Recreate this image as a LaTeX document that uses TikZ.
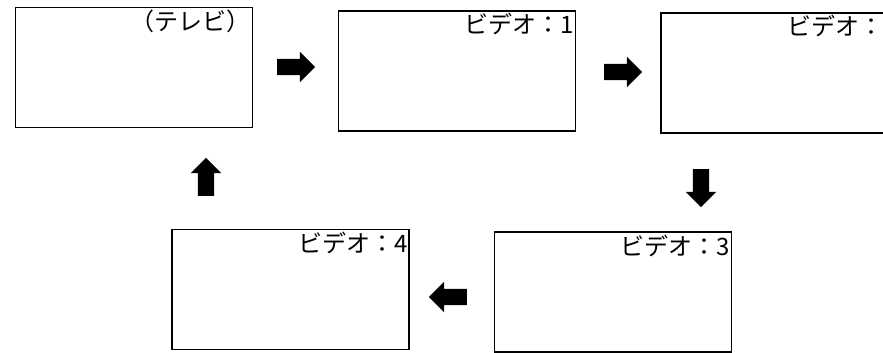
\documentclass[tikz,border=0pt]{standalone}
\usepackage{fontspec}
\newfontfamily\jpfont{Noto Sans CJK JP}
\usetikzlibrary{calc,positioning,shapes.arrows}

\begin{document}
\begin{tikzpicture}[x=1pt,y=-1pt,font=\jpfont\fontsize{24pt}{26pt}\selectfont,
        scr/.style={draw=black,line width=1.3pt,minimum width=237pt,minimum height=120pt,inner sep=0pt},
        lbl/.style={anchor=north east,inner xsep=2pt,inner ysep=3pt},
        blk/.style={single arrow,fill=black,draw=none,minimum height=38pt,inner sep=8pt,single arrow head extend=7pt,single arrow head indent=0pt}]
        \clip (0,0) rectangle (883,353);
        \node[scr] (tv) at (134,67.5) {};
        \node[scr] (v1) at (457,71) {};
        \node[scr] (v2) at (779.5,73) {};
        \node[scr] (v3) at (613,292) {};
        \node[scr] (v4) at (290.5,289.5) {};
        \node[lbl] (ttv) at (tv.north east) {（テレビ）};
        \foreach \n in {1,2,3,4}{\node[lbl] (t\n) at (v\n.north east) {ビデオ：\n};}
        % block arrows between the screens
        \node[blk] (a1) at (292,67) {};
        \node[blk] (a2) at (619,72) {};
        \node[blk,shape border rotate=270] (a3) at (701,184) {};
        \node[blk,shape border rotate=180] (a4) at (452,297) {};
        \node[blk,shape border rotate=90] (a5) at (206,181) {};
      \end{tikzpicture}
\end{document}
